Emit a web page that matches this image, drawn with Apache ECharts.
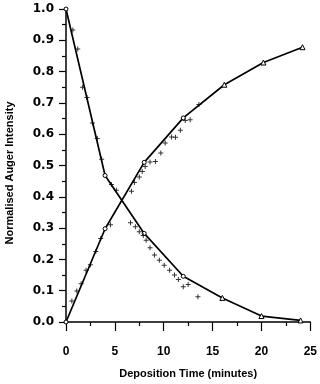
<!DOCTYPE html>
<html><head><meta charset="utf-8">
<script src="https://cdn.jsdelivr.net/npm/echarts@6/dist/echarts.min.js"></script>
<style>html,body{margin:0;padding:0;background:#fff}#c{width:320px;height:384px}</style>
</head><body><div id="c"></div>
<script>
// Fitted curves (line + markers)
var decT = [0, 4, 8, 12, 16, 20, 24];
var decV = [1.0, 0.468, 0.283, 0.146, 0.077, 0.019, 0.005];
var incT = [0, 4, 8, 12, 16.2, 20.2, 24.2];
var incV = [0.0, 0.298, 0.51, 0.652, 0.758, 0.829, 0.878];
// Measured points (+)
var decPtsT = [0.7, 1.2, 1.7, 2.15, 2.7, 3.2, 3.65, 4.65, 5.15, 6.6, 7.1, 7.5, 7.9, 8.2, 8.6, 9.05, 9.55, 10.05, 10.6, 11.1, 11.5, 12.0, 12.5, 13.5];
var decPtsV = [0.933, 0.872, 0.75, 0.717, 0.636, 0.586, 0.52, 0.439, 0.421, 0.317, 0.304, 0.288, 0.276, 0.261, 0.237, 0.214, 0.197, 0.181, 0.165, 0.15, 0.136, 0.113, 0.12, 0.081];
var incPtsT = [0.6, 1.1, 1.55, 2.05, 2.5, 3.05, 3.55, 4.55, 6.7, 7.0, 7.5, 7.8, 8.1, 8.6, 9.15, 9.7, 10.15, 10.8, 11.2, 11.7, 12.2, 12.7, 13.6];
var incPtsV = [0.067, 0.099, 0.122, 0.165, 0.183, 0.225, 0.267, 0.311, 0.418, 0.446, 0.463, 0.481, 0.497, 0.511, 0.513, 0.54, 0.572, 0.591, 0.59, 0.613, 0.644, 0.646, 0.695];
var xTicks = [0, 5, 10, 15, 20, 25];
var yTicks = [0.0, 0.1, 0.2, 0.3, 0.4, 0.5, 0.6, 0.7, 0.8, 0.9, 1.0];

function zip(a, b) { return a.map(function (v, i) { return [v, b[i]]; }); }
function markerData(t, v) {
  return t.map(function (x, i) {
    return { value: [x, v[i]], symbol: i >= 4 ? 'triangle' : 'circle', symbolSize: i >= 4 ? 5 : 4 };
  });
}
var plus = 'path://M-0.6,-3h1.2v6h-1.2z M-3,-0.6h6v1.2h-6z';
var chart = echarts.init(document.getElementById('c'), null, { renderer: 'canvas' });
var axisCommon = {
  axisLine: { show: true, lineStyle: { color: '#000', width: 1.5 } },
  splitLine: { show: false },
  minorSplitLine: { show: false }
};
chart.setOption({
  animation: false,
  backgroundColor: '#fff',
  grid: { left: 66, right: 8, top: 9, bottom: 61 },
  xAxis: Object.assign({
    type: 'value', min: xTicks[0], max: xTicks[xTicks.length - 1], interval: 5,
    name: 'Deposition Time (minutes)', nameLocation: 'middle', nameGap: 46,
    nameTextStyle: { fontFamily: 'Liberation Sans', fontWeight: 'bold', fontSize: 11, color: '#000' },
    axisTick: { show: true, inside: false, length: 9, lineStyle: { color: '#000', width: 1.2 } },
    minorTick: { show: true, splitNumber: 2, length: 4, lineStyle: { color: '#000', width: 1.2 } },
    axisLabel: { margin: 24, fontFamily: 'Liberation Sans', fontWeight: 'bold', fontSize: 12, color: '#000' }
  }, axisCommon),
  yAxis: Object.assign({
    type: 'value', min: yTicks[0], max: yTicks[yTicks.length - 1], interval: 0.1,
    axisTick: { show: true, inside: false, length: 7, lineStyle: { color: '#000', width: 1.2 } },
    minorTick: { show: true, splitNumber: 2, length: 4, lineStyle: { color: '#000', width: 1.2 } },
    axisLabel: { margin: 12, fontFamily: 'DejaVu Sans', fontWeight: 'bold', fontSize: 12, color: '#000',
      formatter: function (v) { return v.toFixed(1); } }
  }, axisCommon),
  graphic: [{
    type: 'text', x: 10, y: 173, rotation: Math.PI / 2,
    style: { text: 'Normalised Auger Intensity', font: 'bold 11px "Liberation Sans"', fill: '#000',
      textAlign: 'center', textVerticalAlign: 'middle' }
  }],
  series: [
    { type: 'line', data: markerData(decT, decV), lineStyle: { color: '#000', width: 1.7 },
      itemStyle: { color: '#fff', borderColor: '#000', borderWidth: 1 }, showAllSymbol: true, z: 3 },
    { type: 'line', data: markerData(incT, incV), lineStyle: { color: '#000', width: 1.7 },
      itemStyle: { color: '#fff', borderColor: '#000', borderWidth: 1 }, showAllSymbol: true, z: 3 },
    { type: 'scatter', data: zip(decPtsT, decPtsV), symbol: plus, symbolSize: 5, itemStyle: { color: '#000' }, z: 4 },
    { type: 'scatter', data: zip(incPtsT, incPtsV), symbol: plus, symbolSize: 5, itemStyle: { color: '#000' }, z: 4 }
  ]
});
</script></body></html>
